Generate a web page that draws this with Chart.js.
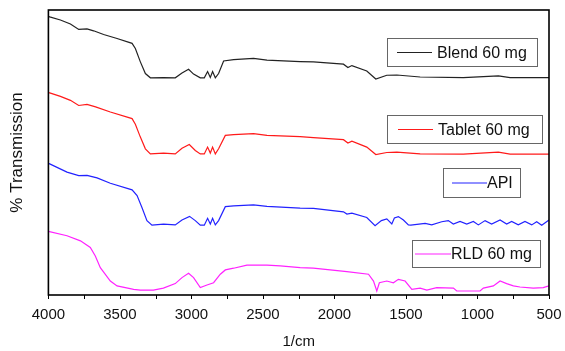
<!DOCTYPE html>
<html>
<head>
<meta charset="utf-8">
<script src="https://cdn.jsdelivr.net/npm/chart.js@4.4.1/dist/chart.umd.min.js"></script>
<style>
  html, body { margin: 0; padding: 0; background: #fff; }
  #wrap { width: 565px; height: 351px; }
</style>
</head>
<body>
<div id="wrap"><canvas id="ftir"></canvas></div>
<script>
// FTIR spectra, stacked (wavenumber in 1/cm, transmission in arbitrary %)
const blendWn = [4000, 3991, 3916, 3846, 3788, 3730, 3684, 3614, 3520, 3415, 3392, 3357, 3322, 3287, 3195, 3113, 3066, 3020, 2985, 2938, 2910, 2887, 2868, 2852, 2833, 2810, 2775, 2705, 2566, 2472, 2240, 2147, 1937, 1906, 1878, 1774, 1711, 1634, 1564, 1401, 1099, 854, 772, 500];
const blendT = [97.8, 97.6, 96.5, 95.1, 93.2, 93.4, 92.7, 91.4, 90.0, 88.3, 86.5, 81.8, 77.7, 76.2, 76.3, 76.2, 77.9, 79.2, 77.5, 76.2, 76.2, 78.4, 76.3, 78.4, 76.2, 77.7, 82.1, 82.6, 83.0, 82.4, 81.9, 81.8, 81.0, 79.8, 80.5, 78.6, 75.8, 77.1, 77.2, 76.5, 76.3, 76.9, 76.3, 76.3];

const tabletWn = [4000, 3991, 3916, 3846, 3788, 3730, 3670, 3567, 3415, 3392, 3357, 3322, 3287, 3195, 3113, 3066, 3015, 2973, 2938, 2910, 2887, 2868, 2852, 2833, 2810, 2763, 2705, 2566, 2472, 2240, 2147, 1937, 1906, 1878, 1774, 1711, 1634, 1564, 1401, 1099, 854, 772, 500];
const tabletT = [71.1, 70.9, 69.7, 68.3, 66.5, 66.9, 66.0, 64.2, 61.9, 59.9, 55.4, 51.3, 49.5, 49.8, 49.5, 51.5, 52.8, 50.7, 49.5, 49.5, 51.9, 49.8, 51.9, 49.5, 51.3, 56.0, 56.3, 56.6, 56.0, 55.6, 55.2, 54.5, 53.3, 54.0, 51.9, 49.3, 50.0, 50.1, 49.5, 49.4, 50.1, 49.4, 49.4];

const apiWn = [4000, 3991, 3870, 3788, 3730, 3660, 3567, 3415, 3380, 3346, 3311, 3276, 3195, 3113, 3066, 3013, 2973, 2938, 2910, 2887, 2868, 2852, 2833, 2810, 2763, 2705, 2566, 2472, 2240, 2147, 1937, 1913, 1878, 1774, 1716, 1672, 1634, 1599, 1581, 1553, 1518, 1483, 1466, 1366, 1320, 1250, 1204, 1169, 1122, 1075, 1029, 994, 947, 901, 842, 796, 761, 715, 668, 621, 586, 551, 500];
const apiT = [46.2, 46.0, 43.1, 41.9, 42.0, 41.1, 39.2, 36.9, 34.9, 30.7, 26.1, 24.5, 24.9, 24.6, 26.3, 27.6, 26.1, 24.5, 24.5, 26.9, 24.9, 26.9, 24.6, 26.1, 31.0, 31.3, 31.6, 31.1, 30.5, 30.4, 29.2, 28.4, 28.7, 27.2, 24.3, 26.1, 26.7, 24.9, 27.0, 27.5, 26.3, 24.6, 24.5, 25.1, 24.6, 25.7, 26.1, 24.9, 25.8, 24.9, 25.8, 24.6, 26.1, 24.9, 26.3, 24.9, 25.8, 24.6, 25.8, 24.6, 25.7, 24.5, 26.3];

const rldWn = [4000, 3870, 3776, 3707, 3672, 3637, 3567, 3520, 3404, 3357, 3266, 3196, 3113, 3066, 3020, 2985, 2938, 2891, 2845, 2798, 2763, 2705, 2612, 2472, 2379, 2240, 2148, 1913, 1762, 1727, 1704, 1686, 1634, 1588, 1553, 1506, 1459, 1401, 1354, 1285, 1168, 1145, 982, 959, 889, 842, 796, 749, 703, 610, 540, 500];
const rldT = [22.3, 20.8, 19.0, 16.7, 13.7, 9.6, 4.9, 3.2, 2.0, 1.7, 1.7, 2.4, 4.0, 6.1, 7.6, 6.1, 2.6, 3.5, 4.3, 7.3, 8.8, 9.4, 10.5, 10.5, 10.2, 9.6, 9.4, 8.2, 7.3, 4.9, 1.4, 4.3, 4.9, 4.3, 5.5, 4.9, 2.0, 2.4, 1.7, 2.6, 2.4, 1.4, 1.4, 2.4, 3.2, 4.9, 4.0, 3.2, 2.8, 2.4, 2.6, 3.2];

const seriesNames = ['Blend 60 mg', 'Tablet 60 mg', 'API', 'RLD 60 mg'];
const seriesColors = ['#222222', '#ff1a1a', '#2222ff', '#ff22ff'];
const xTicksMajor = 500;
const xTicksMinor = 250;

const FONT = "'Liberation Sans', Arial, sans-serif";
const TICK_LEN = 4;

function pairs(xs, ys) {
  return xs.map((x, i) => ({ x, y: ys[i] }));
}

// one boxed legend entry next to each trace
const legendBoxes = [
  { x: 387, y: 38, w: 150, h: 28, lx1: 397, lx2: 432, tx: 437 },
  { x: 387, y: 115, w: 155, h: 28, lx1: 398, lx2: 433, tx: 438 },
  { x: 443, y: 168, w: 77, h: 29, lx1: 452, lx2: 487, tx: 487 },
  { x: 412, y: 240, w: 128, h: 27, lx1: 415, lx2: 451, tx: 451 }
];

// box around the plot + outward tick marks on the wavenumber axis
const framePlugin = {
  id: 'frame',
  afterDatasetsDraw(chart) {
    const { ctx, chartArea: a } = chart;
    const xs = chart.scales.x;
    ctx.save();
    ctx.strokeStyle = '#000';
    ctx.lineWidth = 1;
    ctx.beginPath();
    xs.ticks.forEach(t => {
      const px = Math.round(xs.getPixelForValue(t.value)) + 0.5;
      ctx.moveTo(px, a.bottom);
      ctx.lineTo(px, a.bottom + TICK_LEN);
    });
    ctx.stroke();
    ctx.lineWidth = 1.6;
    ctx.strokeRect(a.left, a.top, a.right - a.left, a.bottom - a.top);
    ctx.restore();
  }
};

const boxLegendPlugin = {
  id: 'boxLegend',
  afterDraw(chart) {
    const ctx = chart.ctx;
    ctx.save();
    legendBoxes.forEach((b, i) => {
      const ds = chart.data.datasets[i];
      ctx.fillStyle = '#fff';
      ctx.fillRect(b.x, b.y, b.w, b.h);
      ctx.strokeStyle = '#666';
      ctx.lineWidth = 1;
      ctx.strokeRect(b.x + 0.5, b.y + 0.5, b.w, b.h);
      const cy = b.y + b.h / 2 + 0.5;
      ctx.strokeStyle = ds.borderColor;
      ctx.lineWidth = 1.2;
      ctx.beginPath();
      ctx.moveTo(b.lx1, cy);
      ctx.lineTo(b.lx2, cy);
      ctx.stroke();
      ctx.fillStyle = '#111';
      ctx.font = '16px ' + FONT;
      ctx.textBaseline = 'middle';
      ctx.textAlign = 'left';
      ctx.fillText(ds.label, b.tx, cy + 1);
    });
    ctx.restore();
  }
};

const datasets = [
  pairs(blendWn, blendT),
  pairs(tabletWn, tabletT),
  pairs(apiWn, apiT),
  pairs(rldWn, rldT)
].map((data, i) => ({
  label: seriesNames[i],
  data,
  borderColor: seriesColors[i],
  borderWidth: 1.2,
  pointRadius: 0,
  tension: 0,
  fill: false
}));

new Chart(document.getElementById('ftir').getContext('2d'), {
  type: 'line',
  data: { datasets },
  options: {
    responsive: true,
    maintainAspectRatio: false,
    animation: false,
    layout: { padding: { top: 10, right: 16, bottom: 0, left: 0 } },
    plugins: { legend: { display: false }, tooltip: { enabled: false } },
    scales: {
      x: {
        type: 'linear',
        reverse: true,
        min: 500,
        max: 4000,
        border: { display: false },
        // tick marks are drawn by the frame plugin; tickLength only reserves room
        grid: { display: false, drawTicks: true, tickLength: 7.5 },
        ticks: {
          stepSize: xTicksMinor,
          autoSkip: false,
          maxRotation: 0,
          padding: 3,
          color: '#111',
          font: { family: FONT, size: 15 },
          callback: v => (v % xTicksMajor === 0 ? String(v) : '')
        },
        title: {
          display: true,
          text: '1/cm',
          color: '#111',
          font: { family: FONT, size: 15 },
          padding: { top: 6.5, bottom: 0 }
        }
      },
      y: {
        min: 0,
        max: 100,
        border: { display: false },
        grid: { display: false, drawTicks: false },
        ticks: { display: false },
        title: {
          display: true,
          text: '% Transmission',
          color: '#111',
          font: { family: FONT, size: 17 },
          padding: { top: 7, bottom: 21 }
        }
      }
    }
  },
  plugins: [framePlugin, boxLegendPlugin]
});
</script>
</body>
</html>
